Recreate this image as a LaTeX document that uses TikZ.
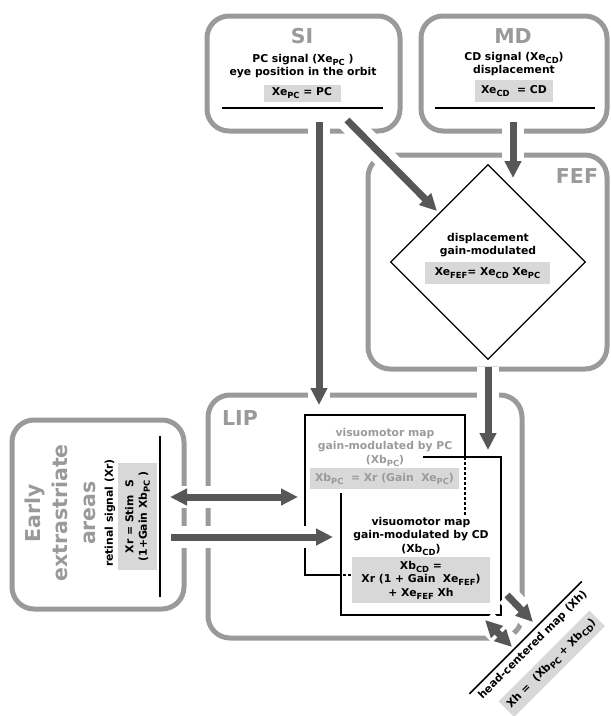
\documentclass[tikz,border=0pt]{standalone}
\usepackage{fontspec}
\setmainfont{DejaVu Sans}
\usepackage{tikz}
\usetikzlibrary{arrows.meta,calc,positioning,shapes.geometric}
\definecolor{AreaGray}{HTML}{9A9A9A}
\definecolor{FlowInk}{HTML}{575757}
\definecolor{EqFill}{HTML}{D8D8D8}
\newcommand{\sbs}[1]{\raisebox{-0.5ex}{\fontsize{8.4}{9}\selectfont #1}}

\begin{document}
\begin{tikzpicture}[
    x=1pt,y=-1pt,
    font=\fontsize{10.8}{13.5}\selectfont\bfseries,
    area/.style={draw=AreaGray,line width=5pt,rounded corners=22pt,inner sep=0pt},
    title/.style={text=AreaGray,font=\fontsize{20.5}{27.5}\selectfont\bfseries,inner sep=0pt},
    txt/.style={align=center,inner sep=1pt},
    eq/.style={fill=EqFill,align=center,inner sep=0pt},
    bar/.style={line width=1.6pt},
    mapline/.style={line width=1.3pt},
    hidden/.style={mapline,dash pattern=on 3pt off 2pt},
    flow/.style={-{Triangle[length=17pt,width=16pt]},line width=7pt,FlowInk,
      preaction={draw=white,line width=22pt,-}},
    both/.style={flow,{Triangle[length=17pt,width=16pt]}-{Triangle[length=17pt,width=16pt]}}
  ]
    \useasboundingbox (0,0) rectangle (611,716);

    % areas
    \node[area,minimum width=193pt,minimum height=115pt] (si) at (303.5,73.5) {};
    \node[area,minimum width=186pt,minimum height=115pt] (md) at (514,73.5) {};
    \node[area,minimum width=239pt,minimum height=214pt] (fef) at (487.5,262) {};
    \node[area,minimum width=314pt,minimum height=243pt] (lip) at (365,516.5) {};
    \node[area,minimum width=172pt,minimum height=189pt] (early) at (98,514.5) {};

    % visuomotor maps
    \coordinate (pcnw) at (305,415);
    \coordinate (pcne) at (465,415);
    \coordinate (pcsw) at (305,575);
    \draw[mapline] (465,457) -- (pcne) -- (pcnw) -- (pcsw) -- (338,575);
    \draw[hidden] (338,575) -- (352,575);
    \draw[hidden] (465,457) -- (465,557);
    \coordinate (cdne) at (501,457);
    \coordinate (cdsw) at (341,615);
    \draw[mapline] (423,457) -- (cdne) -- (cdne |- cdsw) -- (cdsw) -- (341,493);

    % signal flow
    \coordinate (si-out) at (319,122);
    \coordinate (pc-in) at (319,405);
    \coordinate (si-diag) at (347,120);
    \coordinate (fef-tip) at (437,211);
    \coordinate (md-out) at (513,122);
    \coordinate (fef-in) at (513,178);
    \coordinate (fef-out) at (488,367);
    \coordinate (lip-in) at (488,450);
    \coordinate (ea-out) at (170,497);
    \coordinate (pc-w) at (298,497);
    \coordinate (ea-cd) at (171,537);
    \coordinate (cd-w) at (333,537);
    \coordinate (cd-out) at (507,595);
    \coordinate (hc-in) at (533,622);
    \coordinate (cd-back) at (485,620);
    \coordinate (hc-back) at (512,647);

    \draw[flow] (si-out) -- (pc-in);
    \draw[flow] (si-diag) -- (fef-tip);
    \draw[flow] (md-out) -- (fef-in);
    \draw[flow] (fef-out) -- (lip-in);
    \draw[both] (ea-out) -- (pc-w);
    \draw[flow] (ea-cd) -- (cd-w);
    \draw[flow] (cd-out) -- (hc-in);
    \draw[both] (cd-back) -- (hc-back);

    % titles
    \node[title] (sititle) at (302,36) {SI};
    \node[title] (mdtitle) at (513,36) {MD};
    \node[title] (feftitle) at (577,176) {FEF};
    \node[title] (liptitle) at (240,418) {LIP};
    \node[title,rotate=90,align=center] (eatitle) at (60,513) {Early\\extrastriate\\areas};

    % SI
    \node[txt] (pcsig) at (303,66) {PC signal (Xe\sbs{PC} )\\eye position in the orbit};
    \node[eq,minimum width=77pt,minimum height=17pt] (xepc) at (302,93.5) {Xe\sbs{PC} = PC};
    \draw[bar] (222,108) -- (383,108);

    % MD
    \node[txt] (cdsig) at (514,64) {CD signal (Xe\sbs{CD})\\displacement};
    \node[eq,minimum width=78pt,minimum height=22pt] (xecd) at (514,91) {Xe\sbs{CD} \ = CD};
    \draw[bar] (435,108) -- (595,108);

    % FEF
    \node[draw,diamond,line width=1.2pt,minimum width=195pt,minimum height=195pt,inner sep=0pt] (disp) at (488,262) {};
    \node[txt] (disptxt) at (488,245) {displacement\\gain-modulated};
    \node[eq,minimum width=125pt,minimum height=22pt] (xefef) at (487.5,273) {Xe\sbs{FEF}= Xe\sbs{CD} Xe\sbs{PC}};

    % early extrastriate areas
    \node[txt,rotate=90] (retina) at (110,513) {retinal signal (Xr)};
    \node[eq,rotate=90,minimum width=107pt,minimum height=39pt] (xr) at (137.5,516.5) {Xr = Stim\ \ S\\(1+Gain Xb\sbs{PC} )};
    \draw[bar] (160,436) -- (160,597);

    % LIP maps
    \node[txt,text=AreaGray] (pctxt) at (385,447) {visuomotor map\\gain-modulated by PC\\(Xb\sbs{PC})};
    \node[eq,text=AreaGray,minimum width=149pt,minimum height=21pt] (xbpc) at (384.5,478.5) {Xb\sbs{PC} \ = Xr (Gain\ \ Xe\sbs{PC})};
    \node[txt,fill=white] (cdtxt) at (421,536) {visuomotor map\\gain-modulated by CD\\(Xb\sbs{CD})};
    \node[eq,minimum width=138pt,minimum height=46pt] (xbcd) at (421,580) {Xb\sbs{CD} =\\Xr (1 + Gain\ \ Xe\sbs{FEF})\\+ Xe\sbs{FEF} Xh};

    % head-centered map
    \node[txt,rotate=45,inner xsep=5pt,inner ysep=5pt] (hcm) at (533,645) {head-centered map (Xh)};
    \draw[bar] (hcm.north west) -- (hcm.north east);
    \node[eq,rotate=45,anchor=north,minimum height=22pt,inner xsep=4pt] (xh) at ([shift={(3.5,3.5)}]hcm.south) {Xh =\ \ (Xb\sbs{PC} + Xb\sbs{CD})};
  \end{tikzpicture}
\end{document}
